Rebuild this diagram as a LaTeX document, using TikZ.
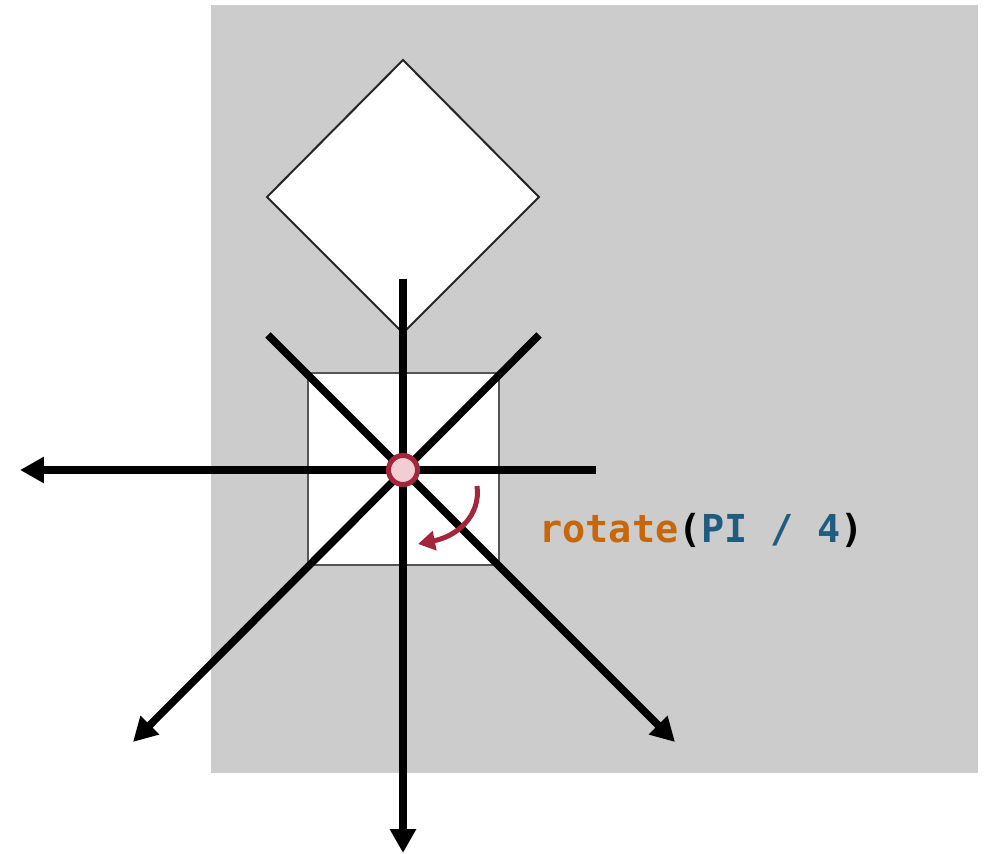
\documentclass[tikz,border=0pt]{standalone}
\usepackage{fontspec}
\setmonofont{DejaVu Sans Mono}
\usetikzlibrary{arrows.meta,positioning,calc}
\definecolor{rtCanvas}{HTML}{CCCCCC}
\definecolor{rtFrame}{HTML}{555555}
\definecolor{rtMark}{HTML}{A3263A}
\definecolor{rtMarkFill}{HTML}{F2CDD3}
\definecolor{rtKeyword}{HTML}{C8660A}
\definecolor{rtValue}{HTML}{1E5C80}
\tikzset{
    % Shapes
    rtCanvasBox/.style={fill=rtCanvas, draw=none},
    rtSquare/.style={fill=white, draw=rtFrame, line width=0.04cm},
    rtDiamond/.style={fill=white, draw=black!85, line width=0.04cm, line join=miter},
    rtPivot/.style={
        circle,
        draw=rtMark,
        fill=rtMarkFill,
        line width=0.1cm,
        minimum size=0.58cm,
        inner sep=0pt
    },
    % Arrows
    rtAxis/.style={line width=0.15cm, draw=black, -{Triangle[length=0.48cm, width=0.5cm]}},
    rtTurn/.style={line width=0.1cm, draw=rtMark, -{Triangle[length=0.34cm, width=0.38cm]}},
    % Labels
    rtCode/.style={
        font=\ttfamily\bfseries\fontsize{21.9}{26}\selectfont,
        anchor=base west,
        inner sep=0pt
    }
}

\begin{document}
\begin{tikzpicture}[x=0.02cm, y=-0.02cm]
\useasboundingbox (0,0) rectangle (992,854);

\fill[rtCanvasBox] (211,5) rectangle (978,773);
\draw[rtDiamond] (403,60) -- (539,197) -- (403,333) -- (267,197) -- cycle;
\draw[rtSquare] (308,373) rectangle (499,565);

\coordinate (origin) at (403,470);
\coordinate (upEnd) at (403,279);
\coordinate (downTip) at (403,853);
\coordinate (rightEnd) at (596,470);
\coordinate (leftTip) at (20,470);
\coordinate (nwEnd) at (268,335);
\coordinate (seTip) at (675,742);
\coordinate (neEnd) at (539,335);
\coordinate (swTip) at (133,742);

\draw[rtAxis] (upEnd) -- (downTip);
\draw[rtAxis] (rightEnd) -- (leftTip);
\draw[rtAxis] (nwEnd) -- (seTip);
\draw[rtAxis] (neEnd) -- (swTip);

\node[rtPivot] (pivot) at (origin) {};

\coordinate (turnStart) at (477,486);
\coordinate (turnTip) at (418,544);
\draw[rtTurn] (turnStart) .. controls (481,515) and (458,536) .. (turnTip);

\node[rtCode] (call) at (539,543) {\textcolor{rtKeyword}{rotate}(\textcolor{rtValue}{PI / 4})};
\end{tikzpicture}
\end{document}
